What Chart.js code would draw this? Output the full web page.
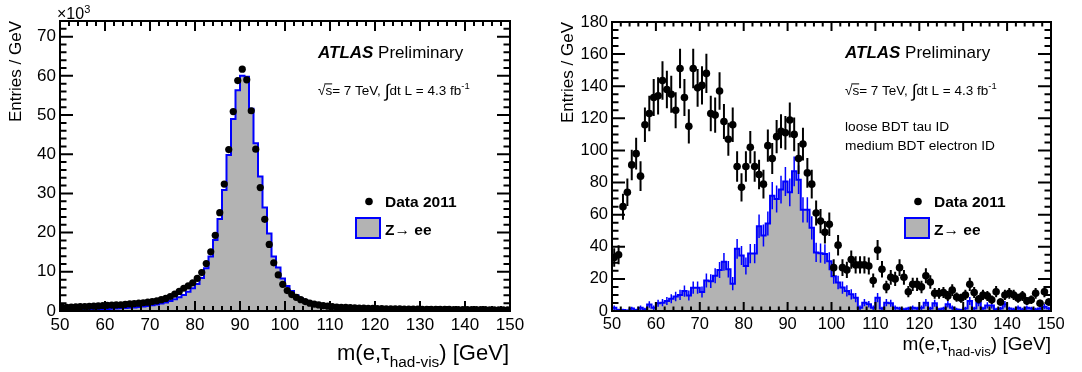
<!DOCTYPE html>
<html>
<head>
<meta charset="utf-8">
<script src="https://cdn.jsdelivr.net/npm/chart.js@4.4.1/dist/chart.umd.min.js"></script>
<style>
  html, body { margin: 0; padding: 0; background: #fff; }
  canvas { position: absolute; top: 0; }
  #chart-izq { left: 0; }
  #chart-der { left: 541px; }
</style>
</head>
<body>
<canvas id="chart-izq" width="541" height="372"></canvas>
<canvas id="chart-der" width="541" height="372"></canvas>
<script>
const FUENTE = '"Liberation Sans", Arial, Helvetica, sans-serif';

// Binning comun: 1 GeV entre 50 y 150
const masaMin = 50;
const masaMax = 150;
const anchoBin = 1;

const ticksX = [50, 60, 70, 80, 90, 100, 110, 120, 130, 140, 150];
const ticksIzqY = [0, 10, 20, 30, 40, 50, 60, 70];
const ticksDerY = [0, 20, 40, 60, 80, 100, 120, 140, 160, 180];

// Panel izquierdo: entradas / GeV en unidades de 10^3
const datosIzq = [
  0.9, 0.95, 1.0, 1.05, 1.1, 1.15, 1.2, 1.25, 1.3, 1.4,
  1.45, 1.5, 1.55, 1.6, 1.7, 1.8, 1.9, 2.0, 2.1, 2.25,
  2.4, 2.6, 2.9, 3.2, 3.7, 4.3, 5.0, 5.8, 6.4, 7.2,
  8.3, 9.8, 12.1, 15.1, 19.3, 25.1, 32.4, 41.2, 50.9, 58.8,
  61.7, 59.0, 51.1, 41.3, 31.5, 23.4, 17.0, 12.3, 9.2, 6.8,
  5.2, 4.2, 3.5, 2.9, 2.4, 2.0, 1.75, 1.55, 1.38, 1.24,
  1.12, 1.02, 0.95, 0.9, 0.85, 0.8, 0.76, 0.72, 0.69, 0.66,
  0.63, 0.6, 0.58, 0.56, 0.54, 0.52, 0.5, 0.49, 0.47, 0.46,
  0.45, 0.44, 0.43, 0.42, 0.41, 0.4, 0.39, 0.38, 0.37, 0.36,
  0.36, 0.35, 0.34, 0.33, 0.33, 0.32, 0.31, 0.31, 0.3, 0.3
];
const zeeIzq = [
  0.2, 0.22, 0.25, 0.28, 0.3, 0.33, 0.36, 0.4, 0.44, 0.48,
  0.52, 0.57, 0.62, 0.68, 0.75, 0.83, 0.92, 1.02, 1.15, 1.3,
  1.45, 1.65, 1.9, 2.2, 2.55, 3.0, 3.5, 4.1, 4.9, 5.8,
  6.9, 8.4, 10.9, 13.9, 18.1, 23.5, 30.9, 39.8, 49.0, 56.3,
  60.0, 59.8, 51.6, 42.8, 34.3, 26.4, 19.8, 13.9, 11.1, 8.3,
  6.4, 5.1, 4.0, 3.2, 2.6, 2.1, 1.7, 1.4, 1.15, 0.95,
  0.8, 0.7, 0.6, 0.52, 0.46, 0.41, 0.37, 0.33, 0.3, 0.27,
  0.25, 0.23, 0.21, 0.2, 0.19, 0.18, 0.17, 0.16, 0.15, 0.15,
  0.14, 0.14, 0.13, 0.13, 0.12, 0.12, 0.11, 0.11, 0.11, 0.1,
  0.1, 0.1, 0.1, 0.09, 0.09, 0.09, 0.09, 0.08, 0.08, 0.08
];

// Panel derecho: entradas / GeV
const datosDer = [
  33.3, 35, 65, 74, 91, 98, 84, 116, 123, 133,
  134, 143.5, 138, 135, 125, 151, 133, 115, 151, 139,
  140.5, 148, 123, 122, 137, 118, 107, 116, 90, 77,
  90, 102, 90, 85, 79, 103, 95, 108.6, 112, 111,
  119, 110, 95, 104, 86, 79, 61, 56, 49, 54,
  27, 41, 27, 25.6, 32, 28.7, 28.7, 28.7, 28, 19,
  38, 26, 15, 21, 20, 27, 21, 12, 16.6, 16.6,
  15, 22, 18, 11, 11, 11.5, 9.4, 13, 8.7, 8,
  10, 16.6, 11.5, 7.3, 10, 9.4, 7, 12, 5.6, 10,
  11, 10, 8, 9.4, 6.2, 7, 11, 4.8, 12, 5.6
];
const errDatosDer = [
  5.8, 5.9, 8.1, 8.6, 9.5, 9.9, 9.2, 10.8, 11.1, 11.5,
  11.6, 12, 11.7, 11.6, 11.2, 12.3, 11.5, 10.7, 12.3, 11.8,
  11.9, 12.2, 11.1, 11, 11.7, 10.9, 10.3, 10.8, 9.5, 8.8,
  9.5, 10.1, 9.5, 9.2, 8.9, 10.1, 9.7, 10.4, 10.6, 10.5,
  10.9, 10.5, 9.7, 10.2, 9.3, 8.9, 7.8, 7.5, 7, 7.3,
  5.2, 6.4, 5.2, 5.1, 5.7, 5.4, 5.4, 5.4, 5.3, 4.4,
  6.2, 5.1, 3.9, 4.6, 4.5, 5.2, 4.6, 3.5, 4.1, 4.1,
  3.9, 4.7, 4.2, 3.3, 3.3, 3.4, 3.1, 3.6, 2.9, 2.8,
  3.2, 4.1, 3.4, 2.7, 3.2, 3.1, 2.6, 3.5, 2.4, 3.2,
  3.3, 3.2, 2.8, 3.1, 2.5, 2.6, 3.3, 2.2, 3.5, 2.4
];
const zeeDer = [
  2, 0.6, 0.6, 0.3, 1.5, 0.6, 2, 1, 4, 2,
  4.8, 5.2, 6.2, 7.7, 9, 10, 12.4, 9.7, 14.5, 14.5,
  11.8, 19, 18.6, 22, 25.5, 30.6, 26, 17, 38.7, 34.6,
  28, 35.8, 35.8, 52.8, 47, 54.5, 71.8, 69.8, 75.6, 80.7,
  73.9, 87, 81.8, 63, 63, 51.8, 36.5, 36, 35.5, 31,
  21.7, 17.7, 14.6, 12.5, 10.4, 8.3, 2, 5.2, 4.2, 2,
  8.3, 1.5, 5.2, 4.8, 2, 1.5, 1, 1.5, 2, 1.5,
  2, 5.2, 1.5, 4.8, 1, 1.5, 4.2, 2, 1, 0.6,
  1.5, 6.2, 1.5, 5.2, 1.5, 3.5, 3.5, 1, 1.5, 4.2,
  1.5, 1, 2, 1, 2, 1.5, 1, 1.5, 2.7, 1.5
];
const errZeeDer = [
  1.4, 0.8, 0.8, 0.5, 1.2, 0.8, 1.4, 1, 2, 1.4,
  2.2, 2.3, 2.5, 2.8, 3, 3.2, 3.5, 3.1, 3.8, 3.8,
  3.4, 4.4, 4.3, 4.7, 5, 5.5, 5.1, 4.1, 6.2, 5.9,
  5.3, 6, 6, 7.3, 6.9, 7.4, 8.5, 8.4, 8.7, 9,
  8.6, 9.3, 9, 7.9, 7.9, 7.2, 6, 6, 6, 5.6,
  4.7, 4.2, 3.8, 3.5, 3.2, 2.9, 1.4, 2.3, 2, 1.4,
  2.9, 1.2, 2.3, 2.2, 1.4, 1.2, 1, 1.2, 1.4, 1.2,
  1.4, 2.3, 1.2, 2.2, 1, 1.2, 2, 1.4, 1, 0.8,
  1.2, 2.5, 1.2, 2.3, 1.2, 1.9, 1.9, 1, 1.2, 2,
  1.2, 1, 1.4, 1, 1.4, 1.2, 1, 1.2, 1.6, 1.2
];

const GRIS = '#b3b3b3';
const AZUL = '#0000ff';

// Puntos en el centro de cada bin
function puntos(valores) {
  return valores.map((v, i) => ({ x: masaMin + (i + 0.5) * anchoBin, y: v }));
}

// Histograma escalonado: un punto por borde inferior + borde final
function escalones(valores) {
  const pts = valores.map((v, i) => ({ x: masaMin + i * anchoBin, y: v }));
  pts.push({ x: masaMax, y: valores[valores.length - 1] });
  return pts;
}

function fuente(p) {
  return `${p.style || 'normal'} ${p.weight || 'normal'} ${p.size}px ${FUENTE}`;
}

// Escribe texto por partes (subindices, superindices, raya encima)
function escribir(ctx, x, y, partes, alinear) {
  let ancho = 0;
  partes.forEach(p => { ctx.font = fuente(p); p.w = ctx.measureText(p.t).width; ancho += p.w; });
  let cx = alinear === 'right' ? x - ancho : x;
  ctx.textAlign = 'left';
  ctx.textBaseline = 'alphabetic';
  partes.forEach(p => {
    ctx.font = fuente(p);
    ctx.fillText(p.t, cx, y + (p.dy || 0));
    if (p.raya) {
      ctx.fillRect(cx - 1, y - p.size * 0.86, p.w + 1, 1);
    }
    cx += p.w;
  });
}

function tituloY(ctx, x, y, texto, size) {
  ctx.save();
  ctx.translate(x, y);
  ctx.rotate(-Math.PI / 2);
  ctx.font = fuente({ size });
  ctx.textAlign = 'right';
  ctx.textBaseline = 'middle';
  ctx.fillStyle = '#000';
  ctx.fillText(texto, 0, 0);
  ctx.restore();
}

function lumi(ctx, x, y, s) {
  escribir(ctx, x, y, [
    { t: '\u221A', size: s },
    { t: 's', size: s, raya: true },
    { t: '= 7 TeV, ', size: s },
    { t: '\u222B', size: s * 1.35, dy: 2 },
    { t: 'dt L = 4.3 fb', size: s },
    { t: '-1', size: s * 0.7, dy: -s * 0.45 }
  ]);
}

function leyenda(ctx, x, yDatos, yZ, s) {
  ctx.fillStyle = '#000';
  ctx.beginPath();
  ctx.arc(x - 16, yDatos - 5.5, 3.8, 0, Math.PI * 2);
  ctx.fill();
  escribir(ctx, x, yDatos, [{ t: 'Data 2011', size: s, weight: 'bold' }]);
  ctx.fillStyle = GRIS;
  ctx.fillRect(x - 29, yZ - 17, 24, 20);
  ctx.strokeStyle = AZUL;
  ctx.lineWidth = 2;
  ctx.strokeRect(x - 29, yZ - 17, 24, 20);
  ctx.fillStyle = '#000';
  escribir(ctx, x, yZ, [
    { t: 'Z', size: s, weight: 'bold' },
    { t: '\u2192', size: s },
    { t: ' ee', size: s, weight: 'bold' }
  ]);
}

function tituloX(ctx, x, y, s) {
  escribir(ctx, x, y, [
    { t: 'm(e,\u03C4', size: s },
    { t: 'had-vis', size: s * 0.7, dy: s * 0.3 },
    { t: ') [GeV]', size: s }
  ], 'right');
}

// Marco estilo ROOT con ticks hacia dentro en los cuatro lados
const marcoRoot = {
  id: 'marcoRoot',
  afterDraw(chart, args, o) {
    const { ctx, chartArea: a, scales: { x, y } } = chart;
    ctx.save();
    ctx.strokeStyle = '#000';
    ctx.lineWidth = 2;
    ctx.beginPath();
    const nx = Math.round((x.max - x.min) / o.xMenor);
    const cadaX = Math.round(o.xMayor / o.xMenor);
    for (let k = 0; k <= nx; k++) {
      const px = x.getPixelForValue(x.min + k * o.xMenor);
      const len = k % cadaX === 0 ? o.largoX : o.largoX / 2;
      ctx.moveTo(px, a.bottom); ctx.lineTo(px, a.bottom - len);
      ctx.moveTo(px, a.top); ctx.lineTo(px, a.top + len);
    }
    const ny = Math.floor((y.max - y.min) / o.yMenor + 1e-6);
    const cadaY = Math.round(o.yMayor / o.yMenor);
    for (let k = 0; k <= ny; k++) {
      const py = y.getPixelForValue(y.min + k * o.yMenor);
      const len = k % cadaY === 0 ? o.largoY : o.largoY / 2;
      ctx.moveTo(a.left, py); ctx.lineTo(a.left + len, py);
      ctx.moveTo(a.right, py); ctx.lineTo(a.right - len, py);
    }
    ctx.stroke();
    ctx.strokeRect(a.left, a.top, a.right - a.left, a.bottom - a.top);
    ctx.restore();
  }
};

// Barras de error (verticales y, opcional, horizontales de medio bin)
const barrasError = {
  id: 'barrasError',
  afterDatasetDraw(chart, args) {
    const ds = chart.data.datasets[args.index];
    if (!ds.barras) return;
    const { ctx, chartArea: a, scales: { x, y } } = chart;
    const b = ds.barras;
    ctx.save();
    ctx.beginPath();
    ctx.rect(a.left, a.top, a.right - a.left, a.bottom - a.top);
    ctx.clip();
    ctx.strokeStyle = b.color;
    ctx.lineWidth = b.grosor;
    ctx.beginPath();
    b.valores.forEach((v, i) => {
      const c = masaMin + (i + 0.5) * anchoBin;
      const px = x.getPixelForValue(c);
      ctx.moveTo(px, y.getPixelForValue(v - b.errores[i]));
      ctx.lineTo(px, y.getPixelForValue(v + b.errores[i]));
      if (b.horizontal) {
        const py = y.getPixelForValue(v);
        ctx.moveTo(x.getPixelForValue(c - anchoBin / 2), py);
        ctx.lineTo(x.getPixelForValue(c + anchoBin / 2), py);
      }
    });
    ctx.stroke();
    ctx.restore();
  }
};

function opcionesEjes(yMax, ticksY, anchoY, sizeTicks) {
  return {
    x: {
      type: 'linear', min: masaMin, max: masaMax,
      afterBuildTicks: s => { s.ticks = ticksX.map(v => ({ value: v })); },
      afterFit: s => { s.height = 61; },
      grid: { display: false, drawTicks: false },
      border: { display: false },
      ticks: { padding: 4, maxRotation: 0, autoSkip: false, color: '#000', font: { family: FUENTE, size: sizeTicks } }
    },
    y: {
      type: 'linear', min: 0, max: yMax,
      afterBuildTicks: s => { s.ticks = ticksY.map(v => ({ value: v })); },
      afterFit: s => { s.width = anchoY; },
      grid: { display: false, drawTicks: false },
      border: { display: false },
      ticks: { padding: 4, color: '#000', font: { family: FUENTE, size: sizeTicks } }
    }
  };
}

function renderIzq() {
  const ctx = document.getElementById('chart-izq').getContext('2d');
  const textos = {
    id: 'textosIzq',
    afterDraw(chart) {
      const c = chart.ctx;
      c.save();
      c.fillStyle = '#000';
      escribir(c, 57, 19, [{ t: '\u00D710', size: 16 }, { t: '3', size: 11, dy: -6.5 }]);
      tituloY(c, 16, 21, 'Entries / GeV', 17);
      escribir(c, 318, 58, [
        { t: 'ATLAS', size: 17, weight: 'bold', style: 'italic' },
        { t: ' Preliminary', size: 17 }
      ]);
      lumi(c, 318, 95, 13.5);
      leyenda(c, 385, 207, 235, 15.5);
      c.fillStyle = '#000';
      tituloX(c, 509, 360, 22);
      c.restore();
    }
  };
  new Chart(ctx, {
    type: 'line',
    data: {
      datasets: [{
        label: 'Data 2011',
        data: puntos(datosIzq),
        showLine: false,
        pointRadius: 3.6,
        pointBorderWidth: 0,
        pointBackgroundColor: '#000',
        borderColor: '#000'
      }, {
        label: 'Z\u2192 ee',
        data: escalones(zeeIzq),
        stepped: true,
        fill: 'origin',
        backgroundColor: GRIS,
        borderColor: AZUL,
        borderWidth: 2,
        pointRadius: 0
      }]
    },
    options: {
      responsive: false,
      animation: false,
      events: [],
      layout: { padding: { top: 21, right: 31, left: 0, bottom: 0 } },
      scales: opcionesEjes(74, ticksIzqY, 60, 17),
      plugins: {
        legend: { display: false },
        tooltip: { enabled: false },
        marcoRoot: { xMayor: 10, xMenor: 2, yMayor: 10, yMenor: 2, largoX: 10, largoY: 13 }
      }
    },
    plugins: [barrasError, marcoRoot, textos]
  });
}

function renderDer() {
  const ctx = document.getElementById('chart-der').getContext('2d');
  const textos = {
    id: 'textosDer',
    afterDraw(chart) {
      const c = chart.ctx;
      c.save();
      c.fillStyle = '#000';
      tituloY(c, 27, 22, 'Entries / GeV', 17);
      escribir(c, 304, 58, [
        { t: 'ATLAS', size: 17, weight: 'bold', style: 'italic' },
        { t: ' Preliminary', size: 17 }
      ]);
      lumi(c, 304, 95, 13.5);
      escribir(c, 304, 131, [{ t: 'loose BDT tau ID', size: 13.7 }]);
      escribir(c, 304, 150, [{ t: 'medium BDT electron ID', size: 13.7 }]);
      leyenda(c, 393, 207, 235, 15.5);
      c.fillStyle = '#000';
      tituloX(c, 510, 350, 19);
      c.restore();
    }
  };
  new Chart(ctx, {
    type: 'line',
    data: {
      datasets: [{
        label: 'Data 2011',
        data: puntos(datosDer),
        showLine: false,
        pointRadius: 3.8,
        pointBorderWidth: 0,
        pointBackgroundColor: '#000',
        borderColor: '#000',
        barras: { valores: datosDer, errores: errDatosDer, color: '#000', grosor: 2, horizontal: true }
      }, {
        label: 'Z\u2192 ee',
        data: escalones(zeeDer),
        stepped: true,
        fill: 'origin',
        backgroundColor: GRIS,
        borderColor: AZUL,
        borderWidth: 2,
        pointRadius: 0,
        barras: { valores: zeeDer, errores: errZeeDer, color: AZUL, grosor: 1.5, horizontal: false }
      }]
    },
    options: {
      responsive: false,
      animation: false,
      events: [],
      layout: { padding: { top: 22, right: 31, left: 0, bottom: 0 } },
      scales: opcionesEjes(180, ticksDerY, 71, 16.5),
      plugins: {
        legend: { display: false },
        tooltip: { enabled: false },
        marcoRoot: { xMayor: 10, xMenor: 2, yMayor: 20, yMenor: 5, largoX: 9, largoY: 13 }
      }
    },
    plugins: [barrasError, marcoRoot, textos]
  });
}

renderIzq();
renderDer();
</script>
</body>
</html>
